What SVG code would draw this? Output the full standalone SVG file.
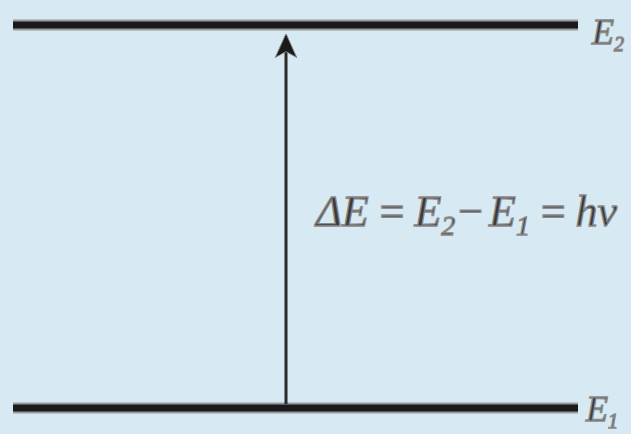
<svg xmlns="http://www.w3.org/2000/svg" width="631" height="434" viewBox="0 0 631 434">
<style>
.lvl{stroke:#1a1a1a;stroke-width:7;stroke-linecap:butt}
.lvlh{stroke:#9a9a9a;stroke-width:11}
.t{font-family:"Liberation Serif","DejaVu Serif",serif;font-style:italic;fill:#3a3a3a;stroke:#8a8a8a;stroke-width:1.3}
.c{stroke:#2a2a2a;stroke-width:3;fill:none}
</style>
<defs>
<marker id="ah" viewBox="0 0 10 10" refX="9" refY="5" markerWidth="24" markerHeight="24" orient="auto" markerUnits="userSpaceOnUse">
<path d="M0,0.5 L10,5 L0,9.5 L2.5,5 Z" fill="#1a1a1a" stroke="#8a8a8a" stroke-width="0.4"/>
</marker>
</defs>
<rect width="631" height="434" fill="#d7e9f3"/>
<g id="E2">
<line class="lvlh" x1="13" y1="25" x2="578" y2="25"/>
<line class="lvl" x1="13" y1="25" x2="578" y2="25"/>
<text class="t" x="592" y="44" font-size="36">E<tspan font-size="20" dy="7">2</tspan></text>
</g>
<g id="E1">
<line class="lvlh" x1="13" y1="408" x2="578" y2="408"/>
<line class="lvl" x1="13" y1="408" x2="578" y2="408"/>
<text class="t" x="586" y="421" font-size="36">E<tspan font-size="20" dy="7">1</tspan></text>
</g>
<g id="connectors">
<line class="c" x1="286" y1="404" x2="286" y2="36" marker-end="url(#ah)"/>
</g>
<g id="label">
<text class="t" x="316" y="226" font-size="44">ΔE<tspan dx="8">=</tspan><tspan dx="8">E</tspan><tspan font-size="28" dy="9">2</tspan><tspan dy="-9">−</tspan><tspan dx="4">E</tspan><tspan font-size="28" dy="9">1</tspan><tspan dx="8" dy="-9">=</tspan><tspan dx="8">hν</tspan></text>
</g>
</svg>
